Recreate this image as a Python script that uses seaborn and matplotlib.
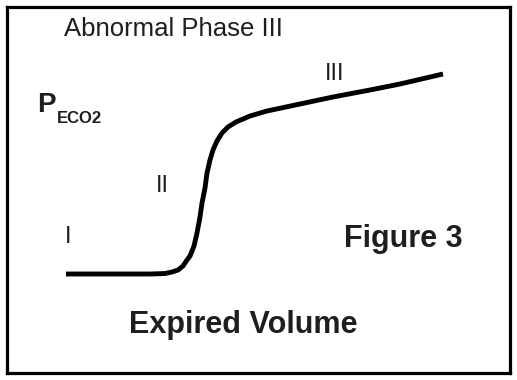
import matplotlib
matplotlib.use("Agg")
import matplotlib.pyplot as plt
import seaborn as sns
import pandas as pd

# Capnogram curve (volume, PECO2 in arbitrary units)
volume = [66, 150, 165, 172, 178, 183, 187, 190, 194, 197, 200, 202, 205, 207,
          210, 213, 217, 222, 228, 236, 250, 267, 300, 333, 370, 400, 443]
peco2 = [106, 106, 106.5, 108, 110, 114, 120, 124, 134, 147, 163, 177, 192, 207,
         220, 230, 239, 247, 253, 258, 264, 269, 276, 283, 290, 296, 306]

title_text = "Abnormal Phase III"
phase_labels = ["I", "II", "III"]
x_label = "Expired Volume"
fig_label = "Figure 3"

sns.set_style("white")
plt.rcParams["font.family"] = ["Liberation Sans", "DejaVu Sans"]

df = pd.DataFrame({"volume": volume, "peco2": peco2})

fig = plt.figure(figsize=(5.17, 3.80), dpi=100)
ax = fig.add_axes([6.5 / 517, 7 / 380, 503.5 / 517, 366.5 / 380])

sns.lineplot(data=df, x="volume", y="peco2", sort=False, color="black",
             linewidth=3.5, ax=ax, solid_capstyle="butt")

ax.set_xlim(6.5, 510)
ax.set_ylim(7, 373.5)
ax.set_xticks([])
ax.set_yticks([])
ax.set_xlabel("")
ax.set_ylabel("")
for s in ax.spines.values():
    s.set_visible(True)
    s.set_color("black")
    s.set_linewidth(2.3)

tc = "#1e1e1e"
ax.text(64, 344, title_text, fontsize=18.5, color=tc, ha="left", va="baseline")
ax.text(37, 268, "P", fontsize=20, fontweight="bold", color=tc, ha="left", va="baseline")
ax.text(57, 257, "ECO2", fontsize=12, fontweight="bold", color=tc, ha="left", va="baseline")
ax.text(65, 137, phase_labels[0], fontsize=17, color=tc, ha="left", va="baseline")
ax.text(156, 188, phase_labels[1], fontsize=17, color=tc, ha="left", va="baseline")
ax.text(325, 300, phase_labels[2], fontsize=17, color=tc, ha="left", va="baseline")
ax.text(344, 133, fig_label, fontsize=22, fontweight="bold", color=tc, ha="left", va="baseline")
ax.text(129, 47, x_label, fontsize=22, fontweight="bold", color=tc, ha="left", va="baseline")

fig.savefig("out.png", dpi=100)
